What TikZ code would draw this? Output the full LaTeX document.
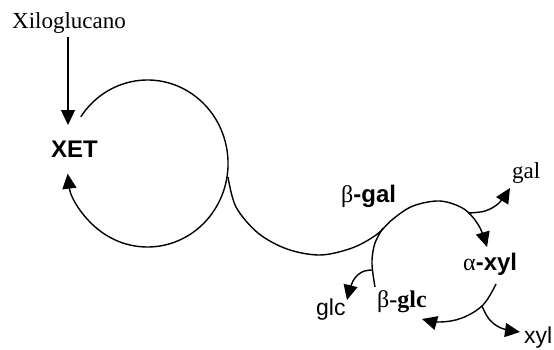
\documentclass[tikz,border=0pt]{standalone}
\usepackage{fontspec}
\setmainfont{Liberation Serif}
\setsansfont{Liberation Sans}
\usetikzlibrary{arrows.meta}
\begin{document}
\begin{tikzpicture}[x=1pt,y=-1pt,
  ln/.style={line width=1.4pt},
  arr/.style={ln,-{Triangle[length=15pt,width=14pt]}},
  lbl/.style={inner sep=0pt,anchor=base west},
  serifl/.style={lbl,font=\fontsize{23}{26}\selectfont},
  sansl/.style={lbl,font=\sffamily\fontsize{23}{26}\selectfont},
  boldl/.style={lbl,font=\sffamily\bfseries\fontsize{24}{26}\selectfont}]
\useasboundingbox (0,0) rectangle (554,349);
% labels
\node[serifl] (xilo) at (12,28) {Xiloglucano};
\node[boldl] (xet) at (51,157) {XET};
\node[boldl] (bgal) at (341,202) {{\rmfamily\mdseries β}-gal};
\node[boldl] (axyl) at (463,270) {{\rmfamily\mdseries α}-xyl};
\node[lbl,font=\rmfamily\bfseries\fontsize{24}{26}\selectfont] (bglc) at (377,307) {{\mdseries β}-glc};
\node[sansl] (glc) at (316,315) {glc};
\node[serifl] (gal) at (512,178) {gal};
\node[sansl] (xyl) at (524,343) {xyl};
% input arrow
\coordinate (xin) at (68,37);
\coordinate (xtip) at (68,125);
\draw[arr] (xin) -- (xtip);
% big cycle
\draw[arr] (80.8,116.8) arc[start angle=-146, end angle=173, x radius=80.5, y radius=83.5];
% S-curve into small cycle
\draw[arr] plot[smooth, tension=0.55] coordinates {(228,177) (236,207) (258,233) (287,249) (320,255) (352,248) (376,235) (393,219) (413,206) (440,201) (464,209) (479,226) (487,247)};
% left arc of small cycle
\draw[ln] plot[smooth, tension=0.6] coordinates {(383,228) (375,243) (372,260) (373,274) (375,287)};
% bottom arc of small cycle
\draw[arr] plot[smooth, tension=0.6] coordinates {(496,284) (483,305) (462,318) (440,322) (422,319)};
% branches
\draw[arr] plot[smooth, tension=0.6] coordinates {(468,213) (485,211) (499,203) (510,188)};
\draw[arr] plot[smooth, tension=0.6] coordinates {(482,306) (489,319) (501,328) (520,332)};
\draw[arr] plot[smooth, tension=0.6] coordinates {(372,270) (362,272) (353,281) (347,300)};
\end{tikzpicture}
\end{document}
